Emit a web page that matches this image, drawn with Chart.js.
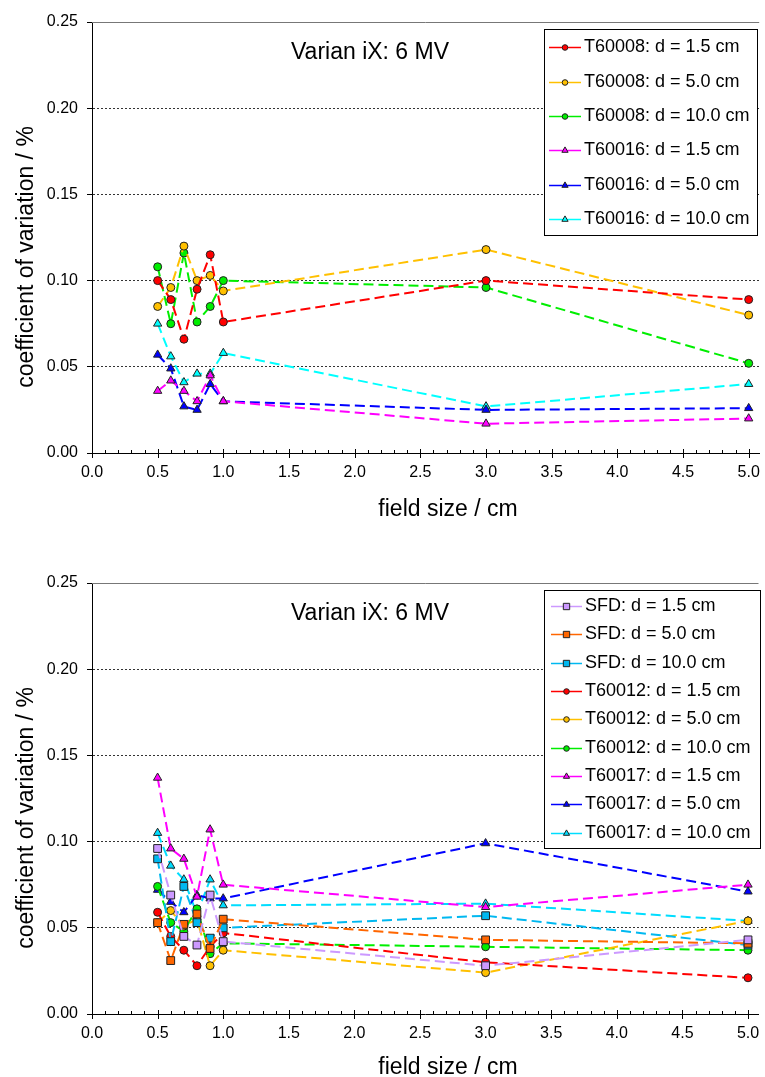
<!DOCTYPE html>
<html>
<head>
<meta charset="utf-8">
<script src="https://cdn.jsdelivr.net/npm/chart.js@4.4.0/dist/chart.umd.min.js"></script>
<style>
  body { margin: 0; background: #fff; }
  canvas { display: block; }
</style>
</head>
<body>
<canvas id="topChart" width="765" height="540"></canvas>
<canvas id="bottomChart" width="765" height="537"></canvas>
<script>
// field sizes (cm) shared by every series
const fieldSize = [0.5, 0.6, 0.7, 0.8, 0.9, 1.0, 3.0, 5.0];
const xTicks = [0.0, 0.5, 1.0, 1.5, 2.0, 2.5, 3.0, 3.5, 4.0, 4.5, 5.0];
const yTicks = [0.00, 0.05, 0.10, 0.15, 0.20, 0.25];

// top panel: T60008 / T60016
const topLabels = ['T60008: d = 1.5 cm', 'T60008: d = 5.0 cm', 'T60008: d = 10.0 cm',
                   'T60016: d = 1.5 cm', 'T60016: d = 5.0 cm', 'T60016: d = 10.0 cm'];
const t60008_d15 = [0.100, 0.089, 0.066, 0.095, 0.115, 0.076, 0.100, 0.089];
const t60008_d50 = [0.085, 0.096, 0.120, 0.100, 0.103, 0.094, 0.118, 0.080];
const t60008_d10 = [0.108, 0.075, 0.116, 0.076, 0.085, 0.100, 0.096, 0.052];
const t60016_d15 = [0.036, 0.042, 0.036, 0.030, 0.045, 0.030, 0.017, 0.020];
const t60016_d50 = [0.057, 0.049, 0.027, 0.025, 0.040, 0.030, 0.025, 0.026];
const t60016_d10 = [0.075, 0.056, 0.041, 0.046, 0.046, 0.058, 0.027, 0.040];

// bottom panel: SFD / T60012 / T60017
const bottomLabels = ['SFD: d = 1.5 cm', 'SFD: d = 5.0 cm', 'SFD: d = 10.0 cm',
                      'T60012: d = 1.5 cm', 'T60012: d = 5.0 cm', 'T60012: d = 10.0 cm',
                      'T60017: d = 1.5 cm', 'T60017: d = 5.0 cm', 'T60017: d = 10.0 cm'];
const sfd_d15 = [0.096, 0.069, 0.045, 0.040, 0.069, 0.042, 0.028, 0.043];
const sfd_d50 = [0.053, 0.031, 0.052, 0.058, 0.038, 0.055, 0.043, 0.041];
const sfd_d10 = [0.090, 0.042, 0.074, 0.053, 0.044, 0.050, 0.057, 0.040];
const t60012_d15 = [0.059, 0.045, 0.037, 0.028, 0.039, 0.047, 0.030, 0.021];
const t60012_d50 = [0.053, 0.060, 0.051, 0.055, 0.028, 0.037, 0.024, 0.054];
const t60012_d10 = [0.074, 0.053, 0.048, 0.061, 0.035, 0.041, 0.039, 0.037];
const t60017_d15 = [0.137, 0.096, 0.090, 0.068, 0.107, 0.075, 0.062, 0.075];
const t60017_d50 = [0.072, 0.065, 0.059, 0.069, 0.067, 0.067, 0.099, 0.071];
const t60017_d10 = [0.105, 0.086, 0.078, 0.058, 0.078, 0.063, 0.064, 0.054];

const FONT = '"Liberation Sans", Arial, sans-serif';
Chart.defaults.font.family = FONT;
Chart.defaults.color = '#000';

function series(label, values, color, shape) {
  const r = shape === 'circle' ? 4 : (shape === 'rect' ? 5.5 : 4.8);
  return {
    label: label,
    data: values.map((v, i) => ({ x: fieldSize[i], y: v })),
    borderColor: color,
    backgroundColor: color,
    borderWidth: 2,
    borderDash: [10, 5],
    tension: 0,
    fill: false,
    pointStyle: shape,
    pointRadius: r,
    pointBackgroundColor: color,
    pointBorderColor: '#222',
    pointBorderWidth: 1
  };
}

// texts, minor ticks, top frame and boxed legend
function framePlugin(view) {
  return {
    id: 'frame',
    afterDraw(chart) {
      const ctx = chart.ctx;
      const area = chart.chartArea;
      const xs = chart.scales.x;
      ctx.save();

      // top border
      ctx.strokeStyle = '#777';
      ctx.lineWidth = 1;
      ctx.beginPath();
      ctx.moveTo(area.left, area.top + 0.5);
      ctx.lineTo(area.right, area.top + 0.5);
      ctx.stroke();

      // x ticks: major crossing the axis, minor inside
      ctx.strokeStyle = '#000';
      const ay = area.bottom;
      for (let k = 0; k <= 50; k++) {
        const px = Math.round(xs.getPixelForValue(k / 10)) + 0.5;
        ctx.beginPath();
        if (k % 5 === 0) { ctx.moveTo(px, ay - 4); ctx.lineTo(px, ay + 5); }
        else { ctx.moveTo(px, ay - 3); ctx.lineTo(px, ay); }
        ctx.stroke();
      }

      // titles
      ctx.fillStyle = '#000';
      ctx.font = '23px ' + FONT;
      ctx.textAlign = 'center';
      ctx.textBaseline = 'alphabetic';
      ctx.fillText('Varian iX: 6 MV', 370, view.titleY);
      ctx.fillText('field size / cm', 448, view.xTitleY);
      ctx.save();
      ctx.translate(33, view.yTitleY);
      ctx.rotate(-Math.PI / 2);
      ctx.fillText('coefficient of variation / %', 0, 0);
      ctx.restore();

      // legend
      const lg = view.legend;
      ctx.fillStyle = '#fff';
      ctx.fillRect(lg.x, lg.y, lg.w, lg.h);
      ctx.strokeStyle = '#000';
      ctx.lineWidth = 1;
      ctx.strokeRect(lg.x + 0.5, lg.y + 0.5, lg.w, lg.h);
      ctx.font = '18px ' + FONT;
      ctx.textAlign = 'left';
      ctx.textBaseline = 'middle';
      chart.data.datasets.forEach((ds, i) => {
        const y = Math.round(lg.first + i * lg.step) + 0.5;
        ctx.strokeStyle = ds.borderColor;
        ctx.lineWidth = 1.5;
        ctx.setLineDash([]);
        ctx.beginPath();
        ctx.moveTo(lg.lineX1, y);
        ctx.lineTo(lg.lineX2, y);
        ctx.stroke();
        ctx.fillStyle = ds.pointBackgroundColor;
        ctx.strokeStyle = '#222';
        ctx.lineWidth = 1;
        const r = ds.pointStyle === 'circle' ? 2.8 : (ds.pointStyle === 'rect' ? 4.5 : 3.6);
        Chart.helpers.drawPoint(ctx, { pointStyle: ds.pointStyle, radius: r, borderWidth: 1, rotation: 0 },
          (lg.lineX1 + lg.lineX2) / 2, y);
        ctx.fillStyle = '#000';
        ctx.fillText(ds.label, lg.textX, y);
      });
      ctx.restore();
    }
  };
}

function makeChart(id, datasets, view) {
  new Chart(document.getElementById(id), {
    type: 'line',
    data: { datasets: datasets },
    options: {
      responsive: false,
      animation: false,
      devicePixelRatio: 1,
      events: [],
      layout: { padding: { top: view.top, right: 2, left: 0, bottom: 0 } },
      plugins: { legend: { display: false }, tooltip: { enabled: false } },
      scales: {
        x: {
          type: 'linear', min: 0, max: 5.08,
          grid: { display: false, drawTicks: false },
          border: { display: true, color: '#000', width: 1 },
          ticks: { padding: 10, font: { size: 16 }, maxRotation: 0, autoSkip: false,
                   callback: v => v.toFixed(1) },
          afterBuildTicks: s => { s.ticks = xTicks.map(v => ({ value: v })); },
          afterFit: s => { s.height = view.xAxisHeight; s.paddingLeft = 0; s.paddingRight = 0; }
        },
        y: {
          type: 'linear', min: 0, max: 0.25,
          grid: {
            color: c => (c.tick && (c.tick.value === 0 || c.tick.value === 0.25)) ? 'rgba(0,0,0,0)' : '#333',
            lineWidth: 1, tickLength: 5, tickColor: '#000'
          },
          border: { display: true, color: '#000', width: 1, dash: [2, 2] },
          ticks: { padding: 9, font: { size: 16 }, callback: v => v.toFixed(2) },
          afterBuildTicks: s => { s.ticks = yTicks.map(v => ({ value: v })); },
          afterFit: s => { s.width = 92; s.paddingTop = 0; s.paddingBottom = 0; }
        }
      }
    },
    plugins: [framePlugin(view)]
  });
}

makeChart('topChart', [
  series(topLabels[0], t60008_d15, '#FF0000', 'circle'),
  series(topLabels[1], t60008_d50, '#FFC000', 'circle'),
  series(topLabels[2], t60008_d10, '#00EE00', 'circle'),
  series(topLabels[3], t60016_d15, '#FF00FF', 'triangle'),
  series(topLabels[4], t60016_d50, '#0000FF', 'triangle'),
  series(topLabels[5], t60016_d10, '#00FFFF', 'triangle')
], {
  top: 22, xAxisHeight: 87, titleY: 59, xTitleY: 516, yTitleY: 257,
  legend: { x: 544, y: 29, w: 213, h: 206, first: 47.3, step: 34.3,
            lineX1: 549, lineX2: 581, textX: 584 }
});

makeChart('bottomChart', [
  series(bottomLabels[0], sfd_d15, '#CC99FF', 'rect'),
  series(bottomLabels[1], sfd_d50, '#FF6600', 'rect'),
  series(bottomLabels[2], sfd_d10, '#00B8F0', 'rect'),
  series(bottomLabels[3], t60012_d15, '#FF0000', 'circle'),
  series(bottomLabels[4], t60012_d50, '#FFC000', 'circle'),
  series(bottomLabels[5], t60012_d10, '#00EE00', 'circle'),
  series(bottomLabels[6], t60017_d15, '#FF00FF', 'triangle'),
  series(bottomLabels[7], t60017_d50, '#0000FF', 'triangle'),
  series(bottomLabels[8], t60017_d10, '#00DDFF', 'triangle')
], {
  top: 43, xAxisHeight: 63, titleY: 80, xTitleY: 534, yTitleY: 278,
  legend: { x: 544, y: 50, w: 216, h: 258, first: 66, step: 28.34,
            lineX1: 551, lineX2: 582, textX: 585 }
});
</script>
</body>
</html>
